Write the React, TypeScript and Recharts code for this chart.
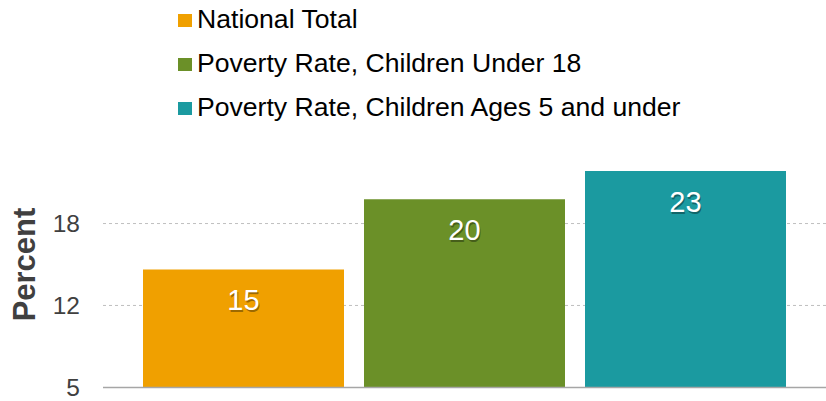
import { BarChart, Bar, XAxis, YAxis, CartesianGrid, Legend, LabelList } from "recharts";

// one category, three series
const categories = ["Poverty"];
const seriesKeys = ["national", "under18", "under5"];
const seriesNames = [
  "National Total",
  "Poverty Rate, Children Under 18",
  "Poverty Rate, Children Ages 5 and under",
];
const seriesValues = [14.6, 20.3, 22.6];
const seriesColors = ["#F0A000", "#6B9028", "#1B9AA0"];

// axis runs 5..25 in three equal steps, shown rounded
const yTicks = [5, 11.67, 18.33];
const gridValues = [11.67, 18.33];
const yDomain = [5, 25];

const data = categories.map((c) => {
  const row: Record<string, string | number> = { name: c };
  seriesKeys.forEach((k, i) => (row[k] = seriesValues[i]));
  return row;
});

const FONT = "'Liberation Sans', Arial, sans-serif";

function ValueLabel(props: any) {
  const { x, y, width, value } = props;
  const cx = x + width / 2;
  const cy = y + 31;
  const txt = Math.round(value);
  return (
    <g style={{ fontFamily: FONT, fontSize: 29 }}>
      <text x={cx + 1} y={cy + 1.5} textAnchor="middle" dominantBaseline="central" fill="rgba(0,0,0,0.35)">
        {txt}
      </text>
      <text x={cx} y={cy} textAnchor="middle" dominantBaseline="central" fill="#ffffff">
        {txt}
      </text>
    </g>
  );
}

function AxisTitle(props: any) {
  const { viewBox } = props;
  const x = viewBox.x + 24;
  const y = viewBox.y + viewBox.height / 2;
  return (
    <text
      x={x}
      y={y}
      transform={`rotate(-90 ${x} ${y})`}
      textAnchor="middle"
      dominantBaseline="central"
      fill="#404040"
      style={{ fontFamily: FONT, fontSize: 31, fontWeight: 700 }}
    >
      Percent
    </text>
  );
}

function LegendBox() {
  return (
    <div style={{ fontFamily: FONT, fontSize: 26.6, color: "#000" }}>
      {seriesNames.map((n, i) => (
        <div key={n} style={{ height: 44, display: "flex", alignItems: "center", whiteSpace: "nowrap" }}>
          <span
            style={{
              display: "inline-block",
              width: 14,
              height: 13,
              background: seriesColors[i],
              marginRight: 5,
              marginTop: 3,
            }}
          />
          <span>{n}</span>
        </div>
      ))}
    </div>
  );
}

export default function App() {
  return (
    <div style={{ position: "absolute", left: 0, top: 0 }}>
      <BarChart
        width={826}
        height={401}
        data={data}
        margin={{ top: 141.5, right: 0, bottom: 12.5, left: 0 }}
        barCategoryGap={40}
        barGap={20}
      >
        <CartesianGrid vertical={false} horizontalValues={gridValues} stroke="#bfbfbf" strokeDasharray="3 3" />
        <XAxis
          dataKey="name"
          height={1}
          tick={false}
          tickLine={false}
          axisLine={{ stroke: "#a6a6a6", strokeWidth: 1.5 }}
        />
        <YAxis
          width={103}
          domain={yDomain}
          ticks={yTicks}
          interval={0}
          allowDataOverflow
          axisLine={false}
          tickLine={false}
          tickSize={0}
          tickMargin={23}
          tickFormatter={(v: number) => String(Math.round(v))}
          tick={{ fill: "#404040", fontSize: 24.5, fontFamily: FONT }}
          label={<AxisTitle />}
        />
        <Legend
          layout="vertical"
          align="center"
          verticalAlign="middle"
          content={<LegendBox />}
          wrapperStyle={{ top: -3, left: 178, width: 640 }}
        />
        {seriesKeys.map((k, i) => (
          <Bar key={k} dataKey={k} name={seriesNames[i]} fill={seriesColors[i]} isAnimationActive={false}>
            <LabelList dataKey={k} content={<ValueLabel />} />
          </Bar>
        ))}
      </BarChart>
    </div>
  );
}
